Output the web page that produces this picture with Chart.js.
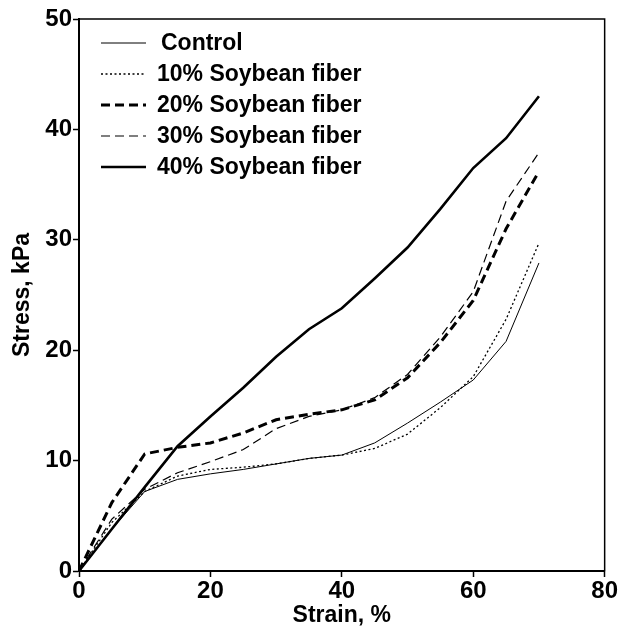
<!DOCTYPE html>
<html>
<head>
<meta charset="utf-8">
<script src="https://cdn.jsdelivr.net/npm/chart.js@4/dist/chart.umd.min.js"></script>
<style>
  html, body { margin: 0; padding: 0; background: #fff; }
  #wrap { width: 618px; height: 633px; }
</style>
</head>
<body>
<div id="wrap"><canvas id="stressChart"></canvas></div>
<script>
// strain, %
const strain = [0, 5, 10, 15, 20, 25, 30, 35, 40, 45, 50, 55, 60, 65, 70];

// stress, kPa
const control = [0, 3.8, 7.2, 8.3, 8.8, 9.2, 9.7, 10.2, 10.5, 11.6, 13.4, 15.3, 17.3, 20.8, 27.9];
const fiber10 = [0, 4.4, 7.2, 8.6, 9.2, 9.4, 9.7, 10.2, 10.5, 11.1, 12.4, 14.8, 17.6, 22.8, 29.7];
const fiber20 = [0, 6.2, 10.6, 11.2, 11.6, 12.5, 13.7, 14.2, 14.6, 15.5, 17.5, 20.7, 24.5, 31.0, 36.2];
const fiber30 = [0, 4.7, 7.4, 8.9, 9.9, 11.0, 12.9, 14.0, 14.6, 15.7, 17.8, 21.2, 25.3, 33.5, 37.9];
const fiber40 = [0, 3.8, 7.6, 11.3, 14.0, 16.6, 19.4, 21.9, 23.8, 26.5, 29.3, 32.8, 36.5, 39.2, 43.0];

const seriesLabels = ['Control', '10% Soybean fiber', '20% Soybean fiber', '30% Soybean fiber', '40% Soybean fiber'];
const xTicks = [0, 20, 40, 60, 80];
const yTicks = [0, 10, 20, 30, 40, 50];

const FONT = '"Liberation Sans", Arial, Helvetica, sans-serif';

function toPoints(ys) {
    return ys.map((y, i) => ({ x: strain[i], y: y }));
}

// 线型
const styles = [
    { borderWidth: 1, borderDash: [] },
    { borderWidth: 1.3, borderDash: [2, 2.5] },
    { borderWidth: 3, borderDash: [9, 5] },
    { borderWidth: 1.2, borderDash: [9, 5] },
    { borderWidth: 2.6, borderDash: [] }
];

const datasets = [control, fiber10, fiber20, fiber30, fiber40].map((ys, i) => ({
    label: seriesLabels[i],
    data: toPoints(ys),
    borderColor: '#000',
    backgroundColor: '#000',
    borderWidth: styles[i].borderWidth,
    borderDash: styles[i].borderDash,
    pointRadius: 0,
    tension: 0,
    fill: false
}));

// 图框 + 图例
const framePlugin = {
    id: 'frame',
    afterDatasetsDraw(chart) {
        const { ctx, chartArea: a } = chart;
        ctx.save();
        ctx.strokeStyle = '#000';
        ctx.lineWidth = 1.5;
        ctx.setLineDash([]);
        ctx.strokeRect(a.left, a.top, a.right - a.left, a.bottom - a.top);

        // legend
        ctx.font = 'bold 23px ' + FONT;
        ctx.textBaseline = 'middle';
        ctx.fillStyle = '#000';
        const x0 = a.left + 22, x1 = a.left + 67, tx = a.left + 78;
        chart.data.datasets.forEach((ds, i) => {
            const y = a.top + 24 + i * 31;
            ctx.beginPath();
            ctx.lineWidth = ds.borderWidth;
            ctx.setLineDash(ds.borderDash || []);
            ctx.moveTo(x0, y);
            ctx.lineTo(x1, y);
            ctx.stroke();
            ctx.setLineDash([]);
            ctx.fillText(ds.label, tx + (i === 0 ? 4 : 0), y + 1);
        });
        ctx.restore();
    }
};

new Chart(document.getElementById('stressChart'), {
    type: 'line',
    data: { datasets: datasets },
    options: {
        responsive: true,
        maintainAspectRatio: false,
        animation: false,
        layout: { padding: { top: 19, right: 13, left: 0, bottom: 0 } },
        plugins: {
            legend: { display: false },
            tooltip: { enabled: false }
        },
        scales: {
            x: {
                type: 'linear',
                min: 0,
                max: 80,
                afterBuildTicks: s => { s.ticks = xTicks.map(v => ({ value: v })); },
                afterFit: s => { s.height = 62; },
                grid: { drawOnChartArea: false, tickLength: 6, tickColor: '#000', tickWidth: 1.5 },
                border: { color: '#000', width: 2 },
                ticks: { color: '#000', font: { family: FONT, size: 24, weight: 'bold' }, padding: 0, maxRotation: 0 },
                title: { display: true, text: 'Strain, %', color: '#000', font: { family: FONT, size: 23, weight: 'bold' }, padding: { top: 0, bottom: 4 } }
            },
            y: {
                type: 'linear',
                min: 0,
                max: 50,
                afterBuildTicks: s => { s.ticks = yTicks.map(v => ({ value: v })); },
                afterFit: s => { s.width = 79; },
                grid: { drawOnChartArea: false, tickLength: 6, tickColor: '#000', tickWidth: 1.5 },
                border: { color: '#000', width: 2 },
                ticks: { color: '#000', font: { family: FONT, size: 24, weight: 'bold' }, padding: 1 },
                title: { display: true, text: 'Stress, kPa', color: '#000', font: { family: FONT, size: 23, weight: 'bold' }, padding: { top: 9, bottom: 0 } }
            }
        }
    },
    plugins: [framePlugin]
});
</script>
</body>
</html>
